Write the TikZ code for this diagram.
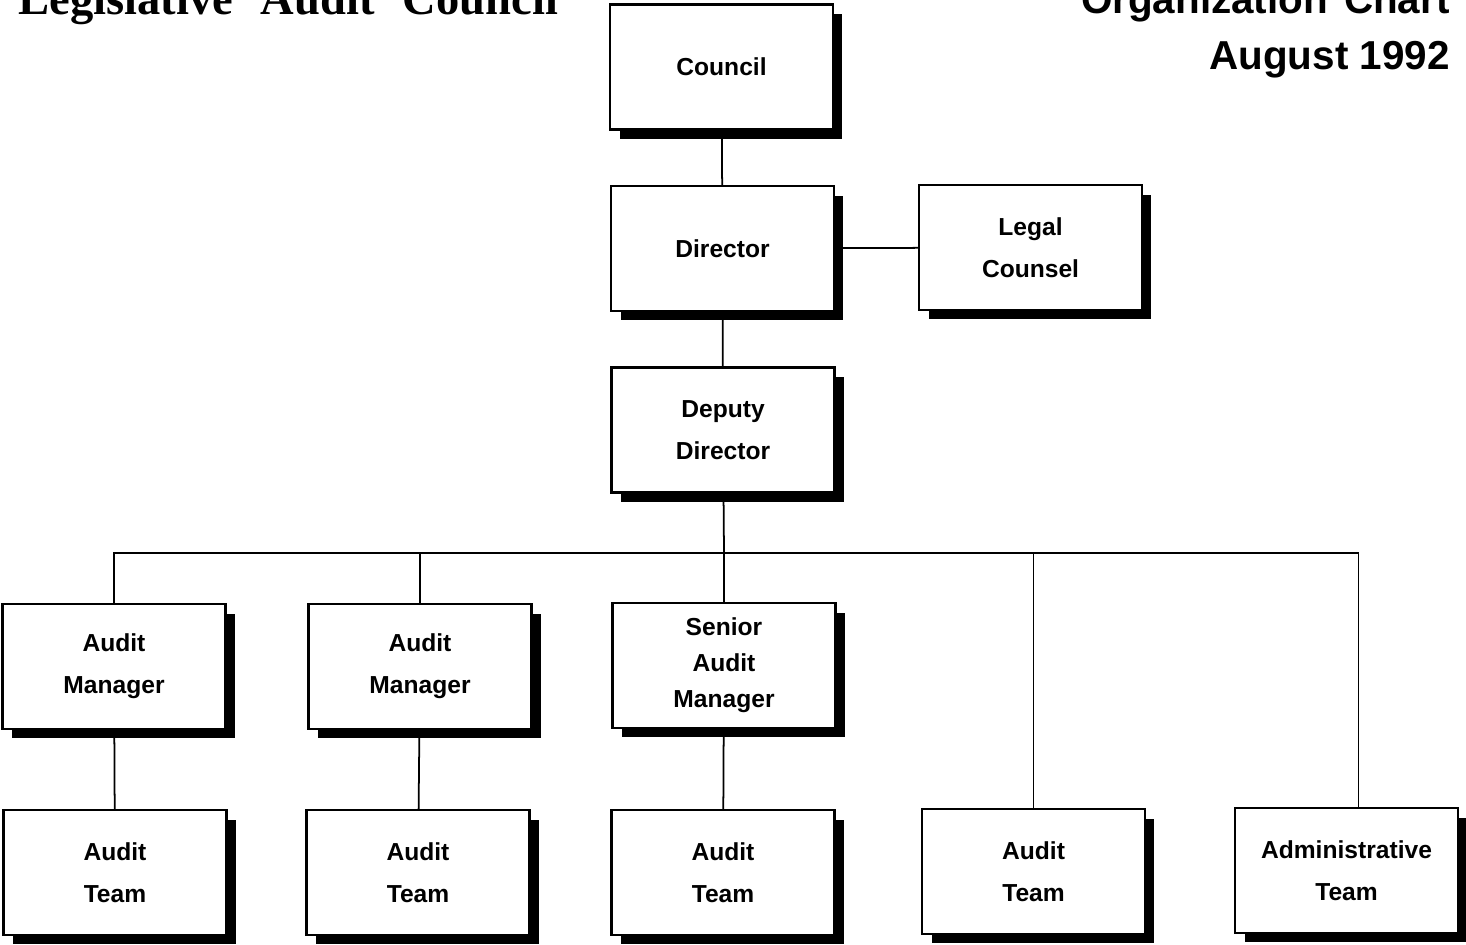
\documentclass[tikz,border=0pt]{standalone}
\usepackage{fontspec}
\setmainfont{Liberation Sans}
\newfontfamily\headserif{Liberation Serif}
\usetikzlibrary{shadows}

\tikzset{
    unit/.style={draw=black, line width=1.4pt, fill=white,
        minimum width=4.46cm, minimum height=2.5cm, align=center,
        font=\fontsize{14}{24}\selectfont\bfseries,
        drop shadow={shadow xshift=0.19cm, shadow yshift=-0.19cm,
            fill=black, opacity=1}},
    link/.style={line width=1pt},
}

\begin{document}
\begin{tikzpicture}[x=0.02cm, y=-0.02cm]
    \clip (0,0) rectangle (1466,945);

    % headings
    \node[anchor=base west, inner sep=0pt,
        font=\headserif\fontsize{26.5}{30}\selectfont\bfseries] (title) at (18,15)
        {Legislative\hspace{0.6em}Audit\hspace{0.6em}Council};
    \node[anchor=base east, inner sep=0pt,
        font=\fontsize{23}{30}\selectfont\bfseries] (chart) at (1450,14)
        {Organization\hspace{0.4em}Chart};
    \node[anchor=base east, inner sep=0pt,
        font=\fontsize{23}{30}\selectfont\bfseries] (date) at (1450,70)
        {August 1992};

    % top of the chart
    \node[unit] (council) at (721.5,67) {Council};
    \node[unit] (director) at (722.5,248.5) {Director};
    \node[unit] (legal) at (1030.5,247.5) {Legal\\Counsel};
    \node[unit] (deputy) at (723,430) {Deputy\\Director};

    % managers
    \node[unit] (mgr1) at (114,666.5) {Audit\\Manager};
    \node[unit] (mgr2) at (420,666.5) {Audit\\Manager};
    \node[unit, font=\fontsize{14}{20.5}\selectfont\bfseries] (senior) at (724,665.5)
        {Senior\\Audit\\Manager};

    % teams
    \node[unit] (team1) at (115,872.5) {Audit\\Team};
    \node[unit] (team2) at (418,872.5) {Audit\\Team};
    \node[unit] (team3) at (723,872.5) {Audit\\Team};
    \node[unit] (team4) at (1033.5,871.5) {Audit\\Team};
    \node[unit] (admin) at (1346.5,870.5) {Administrative\\Team};

    \coordinate (bus) at (724,553);

    \draw[link] (council) -- (director);
    \draw[link] (director) -- (legal);
    \draw[link] (director) -- (deputy);
    \draw[link] (deputy) -- (bus);
    \draw[link] (mgr1.north) |- (bus) -| ([xshift=0.24cm]admin.north);
    \foreach \n in {mgr2,senior,team4} {
        \draw[link] (\n.north) -- (\n.north |- bus);
    }
    \draw[link] (mgr1) -- (team1);
    \draw[link] (mgr2) -- (team2);
    \draw[link] (senior) -- (team3);
\end{tikzpicture}
\end{document}
